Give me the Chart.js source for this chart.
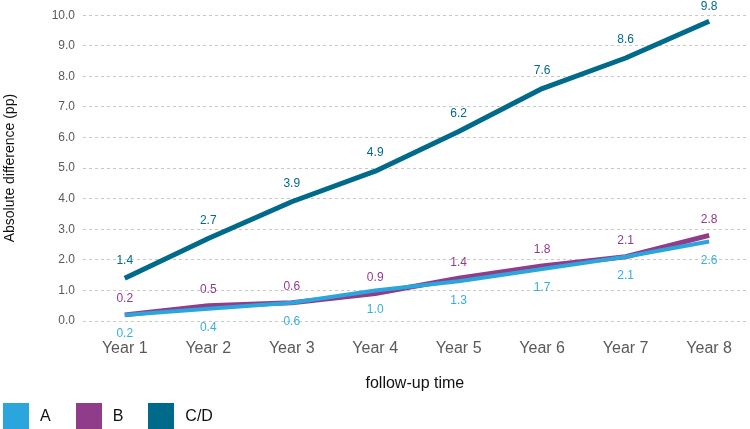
<!DOCTYPE html>
<html>
<head>
<meta charset="utf-8">
<script src="https://cdn.jsdelivr.net/npm/chart.js@4"></script>
<style>
    html, body { margin: 0; padding: 0; background: #fff; }
    #wrap { position: relative; width: 750px; height: 429px; overflow: hidden; }
    #legend { position: absolute; left: 3px; top: 403px; display: flex; font: 16px 'Liberation Sans', Arial, sans-serif; color: #111; }
    .item { display: flex; align-items: center; margin-right: 25px; }
    .box { width: 26px; height: 26px; margin-right: 11px; }
</style>
</head>
<body>
<div id="wrap">
    <canvas id="chart" width="750" height="429"></canvas>
    <div id="legend"></div>
</div>
<script>
const years = ['Year 1', 'Year 2', 'Year 3', 'Year 4', 'Year 5', 'Year 6', 'Year 7', 'Year 8'];
const seriesNames = ['A', 'B', 'C/D'];
const valuesA = [0.2, 0.4, 0.6, 1.0, 1.3, 1.7, 2.1, 2.6];
const valuesB = [0.2, 0.5, 0.6, 0.9, 1.4, 1.8, 2.1, 2.8];
const valuesCD = [1.4, 2.7, 3.9, 4.9, 6.2, 7.6, 8.6, 9.8];
const yTicks = [0, 1, 2, 3, 4, 5, 6, 7, 8, 9, 10];

const colors = ['#2aa6dc', '#913c8b', '#006a8a'];
const labelColors = ['#35aee0', '#913c8b', '#006a8a'];
const labelOffsets = [19, -16, -18];
const fontFamily = "'Liberation Sans', Arial, sans-serif";

const toPoints = (vals) => vals.map((v, i) => ({ x: i + 1, y: v }));

// value labels drawn next to each point, kept inside the canvas
const valueLabels = {
    id: 'valueLabels',
    afterDatasetsDraw(chart) {
        const ctx = chart.ctx;
        ctx.save();
        ctx.font = '12px ' + fontFamily;
        ctx.textAlign = 'center';
        ctx.textBaseline = 'middle';
        chart.data.datasets.forEach((ds, di) => {
            const meta = chart.getDatasetMeta(di);
            ctx.fillStyle = labelColors[di];
            meta.data.forEach((el, i) => {
                const y = Math.max(7, el.y + labelOffsets[di]);
                ctx.fillText(ds.data[i].y.toFixed(1), el.x, y);
            });
        });
        ctx.restore();
    }
};

const ctx = document.getElementById('chart').getContext('2d');
const chart = new Chart(ctx, {
    type: 'line',
    data: {
        datasets: [
            { label: seriesNames[0], data: toPoints(valuesA), borderColor: colors[0], borderWidth: 4 },
            { label: seriesNames[1], data: toPoints(valuesB), borderColor: colors[1], borderWidth: 5 },
            { label: seriesNames[2], data: toPoints(valuesCD), borderColor: colors[2], borderWidth: 5 }
        ]
    },
    options: {
        responsive: false,
        animation: false,
        events: [],
        elements: {
            point: { radius: 0 },
            line: { tension: 0, borderCapStyle: 'butt', borderJoinStyle: 'round' }
        },
        layout: { padding: { top: 13, right: 0, bottom: 36, left: 0 } },
        plugins: {
            legend: { display: false },
            tooltip: { enabled: false }
        },
        scales: {
            x: {
                type: 'linear',
                min: 0.5,
                max: 8.45,
                afterFit: (scale) => { scale.height = 72; },
                afterBuildTicks: (scale) => { scale.ticks = years.map((_, i) => ({ value: i + 1 })); },
                grid: { display: false, drawTicks: false },
                border: { display: false },
                ticks: {
                    padding: 18,
                    color: '#595959',
                    font: { family: fontFamily, size: 16 },
                    callback: (value) => years[value - 1]
                },
                title: {
                    display: true,
                    text: 'follow-up time',
                    color: '#111',
                    padding: { top: 0, bottom: 0 },
                    font: { family: fontFamily, size: 16 }
                }
            },
            y: {
                min: 0,
                max: 10,
                afterFit: (scale) => { scale.width = 83; },
                afterBuildTicks: (scale) => { scale.ticks = yTicks.map(v => ({ value: v })); },
                grid: { color: '#c8c8c8', drawTicks: false },
                border: { display: false, dash: [3, 3] },
                ticks: {
                    padding: 8,
                    color: '#595959',
                    font: { family: fontFamily, size: 12 },
                    callback: (value) => value.toFixed(1)
                },
                title: {
                    display: true,
                    text: 'Absolute difference (pp)',
                    color: '#111',
                    padding: { top: 2, bottom: 0 },
                    font: { family: fontFamily, size: 14 }
                }
            }
        }
    },
    plugins: [valueLabels]
});

const legend = document.getElementById('legend');
seriesNames.forEach((name, i) => {
    const item = document.createElement('div');
    item.className = 'item';
    const box = document.createElement('span');
    box.className = 'box';
    box.style.background = colors[i];
    const text = document.createElement('span');
    text.textContent = name;
    item.appendChild(box);
    item.appendChild(text);
    legend.appendChild(item);
});
</script>
</body>
</html>
